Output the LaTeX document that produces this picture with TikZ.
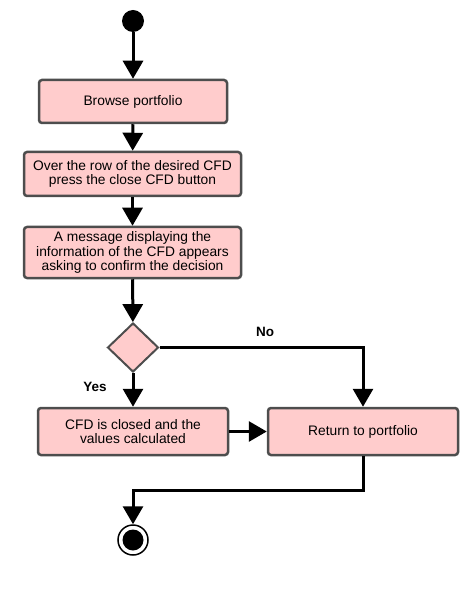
\documentclass[tikz,border=0pt]{standalone}
\usepackage{fontspec}
\setmainfont{Liberation Sans}
\usetikzlibrary{arrows.meta,shapes.geometric}
\definecolor{boxfill}{HTML}{FFCCCC}
\definecolor{boxdraw}{HTML}{4D4D4D}
\begin{document}
\begin{tikzpicture}[x=1pt,y=-1pt,
  actbox/.style={draw=boxdraw,fill=boxfill,line width=2.5pt,rounded corners=3pt,
    font=\fontsize{13.8}{14.5}\selectfont,align=center,inner sep=0pt},
  flow/.style={line width=3pt,-{Triangle[width=20pt,length=18pt]}},
  lab/.style={font=\fontsize{13.5}{14}\selectfont\bfseries}]
\useasboundingbox (0,0) rectangle (469,609);
\node[circle,fill=black,minimum size=22pt,inner sep=0pt] (start) at (133,21) {};
\node[actbox,minimum width=188pt,minimum height=43pt] (b1) at (133,101.5) {Browse portfolio};
\node[actbox,minimum width=217pt,minimum height=44pt] (b2) at (132.5,174) {Over the row of the desired CFD\\press the close CFD button};
\node[actbox,minimum width=217pt,minimum height=51pt] (b3) at (132.5,252.5) {A message displaying the\\information of the CFD appears\\asking to confirm the decision};
\node[diamond,draw=boxdraw,fill=boxfill,line width=2pt,minimum width=51pt,minimum height=49pt,inner sep=0pt] (d) at (133,347.5) {};
\node[actbox,minimum width=190pt,minimum height=47pt] (b4) at (133,431.5) {CFD is closed and the\\values calculated};
\node[actbox,minimum width=190pt,minimum height=47pt] (b5) at (363,431.5) {Return to portfolio};
\node[circle,draw=black,line width=1.5pt,fill=white,minimum size=30pt,inner sep=0pt] (end) at (133,540) {};
\node[circle,fill=black,minimum size=21pt,inner sep=0pt] at (end) {};
\coordinate (c1) at (363,347.5);
\coordinate (c2) at (363,490);
\coordinate (c3) at (133,490);
\draw[flow] (start) -- (b1);
\draw[flow] (b1) -- (b2);
\draw[flow] (b2) -- (b3);
\draw[flow] (b3) -- (d);
\draw[flow] (d) -- (b4);
\draw[flow] (d.east) -- (c1) -- (b5.north);
\draw[flow] (b4) -- (b5);
\draw[flow] (b5.south) -- (c2) -- (c3) -- (end.north);
\node[lab] (no) at (265,332) {No};
\node[lab] (yes) at (95,387) {Yes};
\end{tikzpicture}
\end{document}
